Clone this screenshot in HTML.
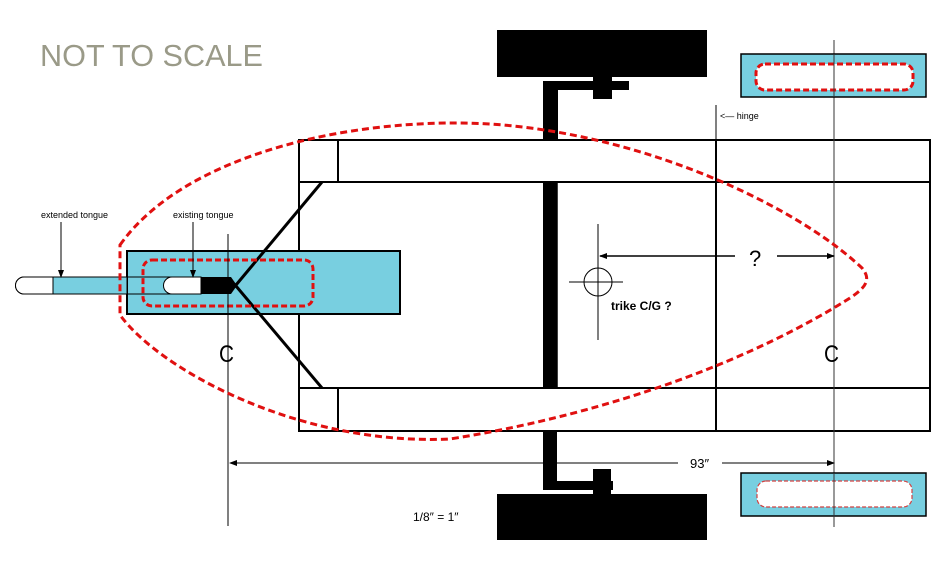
<!DOCTYPE html>
<html><head><meta charset="utf-8"><style>
body{margin:0;background:#fff}
svg{display:block}
text{font-family:"Liberation Sans",sans-serif}
</style></head><body>
<svg width="944" height="572" viewBox="0 0 944 572" xmlns="http://www.w3.org/2000/svg">
<defs>
<marker id="ah" markerWidth="8" markerHeight="6" refX="7" refY="3" orient="auto" markerUnits="userSpaceOnUse"><path d="M0,0 L8,3 L0,6 Z" fill="#000"/></marker>
</defs>
<text x="40" y="66" font-size="31" fill="#9a9a88" textLength="223" lengthAdjust="spacingAndGlyphs">NOT TO SCALE</text>

<!-- wheels & axles -->
<rect x="497" y="30" width="210" height="47" fill="#000"/>
<rect x="543" y="81" width="15" height="59" fill="#000"/>
<rect x="543" y="81" width="86" height="9" fill="#000"/>
<rect x="593" y="76" width="19" height="23" fill="#000"/>
<rect x="543" y="182" width="14" height="206" fill="#000"/>
<rect x="543" y="431" width="14" height="59" fill="#000"/>
<rect x="543" y="481" width="70" height="9" fill="#000"/>
<rect x="593" y="469" width="18" height="25" fill="#000"/>
<rect x="497" y="494" width="210" height="46" fill="#000"/>

<!-- frame -->
<g fill="none" stroke="#000" stroke-width="2">
<rect x="299" y="140" width="631" height="291"/>
<line x1="299" y1="182" x2="930" y2="182"/>
<line x1="299" y1="388" x2="930" y2="388"/>
<line x1="338" y1="140" x2="338" y2="182"/>
<line x1="338" y1="388" x2="338" y2="431"/>
<line x1="716" y1="140" x2="716" y2="431"/>
<line x1="557" y1="182" x2="557" y2="388" stroke-width="1.5"/>
</g>
<line x1="716" y1="105" x2="716" y2="140" stroke="#000" stroke-width="1"/>
<text x="720" y="119" font-size="9">&lt;— hinge</text>

<!-- blue box & tongue -->
<rect x="127" y="251" width="273" height="63" fill="#78cfe0" stroke="#000" stroke-width="2"/>
<path d="M24,277 H127 V294 H24 A8.5,8.5 0 0 1 24,277 Z" fill="#78cfe0" stroke="#000" stroke-width="1"/>
<path d="M24,277 H53 V294 H24 A8.5,8.5 0 0 1 24,277 Z" fill="#fff" stroke="#000" stroke-width="1"/>
<line x1="127" y1="277" x2="200" y2="277" stroke="#000"/>
<line x1="127" y1="294" x2="200" y2="294" stroke="#000"/>
<path d="M172,277 H201 V294 H172 A8.5,8.5 0 0 1 172,277 Z" fill="#fff" stroke="#000" stroke-width="1"/>
<path d="M201,277 H231 L237,285.5 L231,294 H201 Z" fill="#000"/>
<line x1="236" y1="285" x2="322" y2="182" stroke="#000" stroke-width="3"/>
<line x1="236" y1="286" x2="322" y2="388" stroke="#000" stroke-width="3"/>
<rect x="143" y="260" width="170" height="46" rx="9" fill="none" stroke="#e01010" stroke-width="3" stroke-dasharray="6,3"/>

<text x="41" y="218" font-size="9">extended tongue</text>
<line x1="61" y1="222" x2="61" y2="277" stroke="#000" marker-end="url(#ah)"/>
<text x="173" y="218" font-size="9">existing tongue</text>
<line x1="193" y1="222" x2="193" y2="277" stroke="#000" marker-end="url(#ah)"/>

<!-- centerlines -->
<line x1="228" y1="234" x2="228" y2="526" stroke="#000" stroke-width="1"/>
<line x1="834" y1="40" x2="834" y2="527" stroke="#333" stroke-width="1"/>
<text x="219" y="362" font-size="24" textLength="15" lengthAdjust="spacingAndGlyphs">C</text>
<text x="824" y="362" font-size="24" textLength="15" lengthAdjust="spacingAndGlyphs">C</text>

<!-- CG -->
<circle cx="598" cy="282" r="14" fill="none" stroke="#000" stroke-width="1"/>
<line x1="598" y1="224" x2="598" y2="340" stroke="#000"/>
<line x1="569" y1="282" x2="623" y2="282" stroke="#000"/>
<text x="611" y="310" font-size="12" font-weight="bold">trike C/G ?</text>
<line x1="735" y1="256" x2="600" y2="256" stroke="#000" stroke-width="1.5" marker-end="url(#ah)"/>
<line x1="777" y1="256" x2="834" y2="256" stroke="#000" stroke-width="1.5" marker-end="url(#ah)"/>
<text x="749" y="266" font-size="22">?</text>

<!-- 93 dim -->
<line x1="678" y1="463" x2="230" y2="463" stroke="#000" stroke-width="1" marker-end="url(#ah)"/>
<line x1="722" y1="463" x2="834" y2="463" stroke="#000" stroke-width="1" marker-end="url(#ah)"/>
<text x="690" y="468" font-size="13">93″</text>
<text x="413" y="521" font-size="12">1/8″ = 1″</text>

<!-- right boxes -->
<rect x="741" y="54" width="185" height="43" fill="#78cfe0" stroke="#000" stroke-width="1.5"/>
<rect x="756" y="64" width="157" height="26" rx="9" fill="#fff" stroke="#e01010" stroke-width="3" stroke-dasharray="6,3"/>
<rect x="741" y="473" width="185" height="43" fill="#78cfe0" stroke="#000" stroke-width="1.5"/>
<rect x="757" y="481" width="155" height="26" rx="9" fill="#fff" stroke="#d04040" stroke-width="1.2" stroke-dasharray="4,2"/>
<line x1="834" y1="473" x2="834" y2="527" stroke="#333" stroke-width="1"/>
<line x1="834" y1="54" x2="834" y2="97" stroke="#333" stroke-width="1"/>

<!-- big ellipse -->
<path d="M120,245 C180,160 330,122 460,123 C620,124 790,200 862,268 C872,280 865,288 850,298 C760,355 620,412 450,439 C300,446 160,370 120,315 Z" fill="none" stroke="#e01010" stroke-width="3" stroke-dasharray="7,4"/>
</svg>
</body></html>
